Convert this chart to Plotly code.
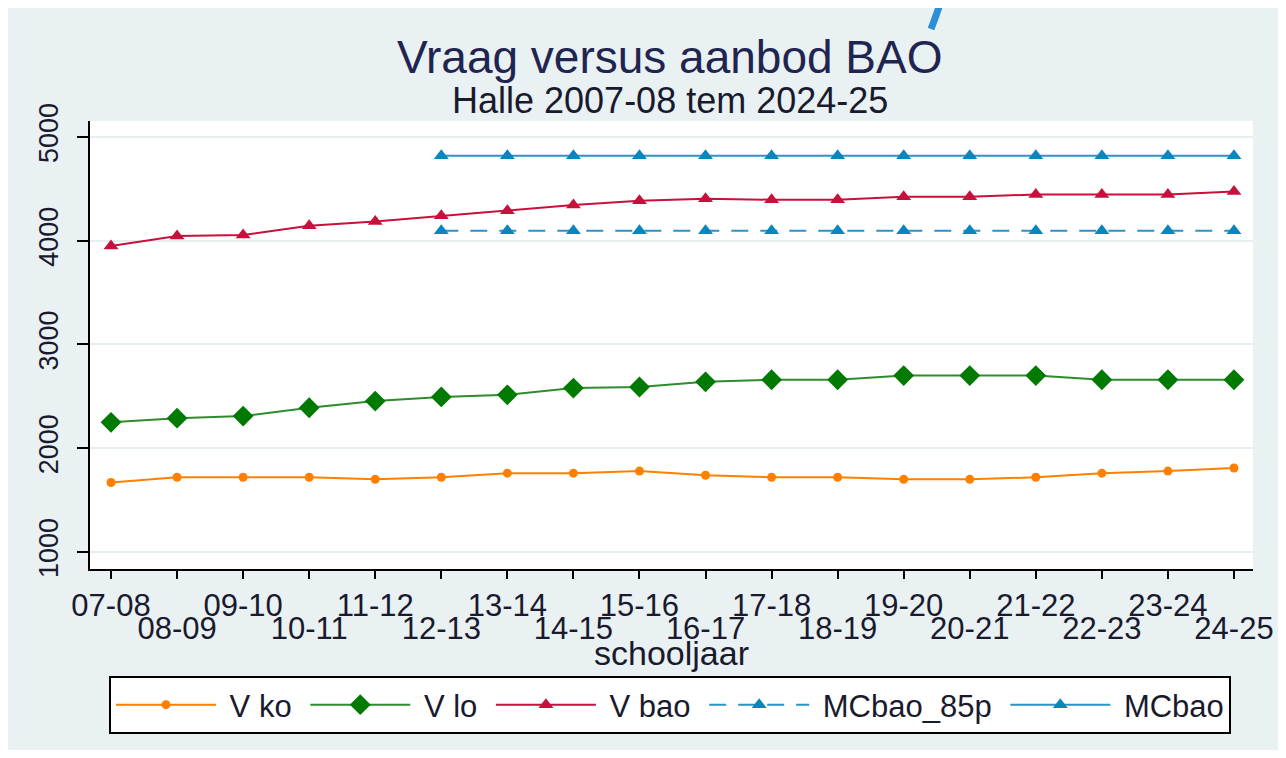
import plotly.graph_objects as go

# ---------------- data ----------------
years = ["07-08", "08-09", "09-10", "10-11", "11-12", "12-13", "13-14", "14-15", "15-16",
         "16-17", "17-18", "18-19", "19-20", "20-21", "21-22", "22-23", "23-24", "24-25"]
v_ko = [1670, 1720, 1720, 1720, 1700, 1720, 1760, 1760, 1780,
        1740, 1720, 1720, 1700, 1700, 1720, 1760, 1780, 1810]
v_lo = [2250, 2290, 2310, 2390, 2455, 2495, 2515, 2580, 2590,
        2640, 2660, 2660, 2700, 2700, 2700, 2660, 2660, 2660]
v_bao = [3950, 4045, 4055, 4145, 4185, 4240, 4290, 4345, 4385,
         4405, 4395, 4395, 4425, 4425, 4445, 4445, 4445, 4475]
mc_years = ["12-13", "13-14", "14-15", "15-16", "16-17", "17-18", "18-19",
            "19-20", "20-21", "21-22", "22-23", "23-24", "24-25"]
mcbao_85p = [4097, 4097, 4097, 4097, 4097, 4097, 4097, 4097, 4097, 4097, 4097, 4097, 4097]
mcbao = [4820, 4820, 4820, 4820, 4820, 4820, 4820, 4820, 4820, 4820, 4820, 4820, 4820]
y_ticks = [1000, 2000, 3000, 4000, 5000]

pos = {y: i for i, y in enumerate(years)}
x_all = [pos[y] for y in years]
x_mc = [pos[y] for y in mc_years]

FONT = "Liberation Sans, Arial, sans-serif"
TXT = "#1a1a2e"
ORANGE = "#FF8000"
GREEN_L = "#2E8B2E"
GREEN_M = "#007A00"
RED = "#C8103C"
BLUE_L = "#2B93C9"
BLUE_M = "#0A86BE"
NB = "\u00a0"

fig = go.Figure()
fig.add_trace(go.Scatter(x=x_all, y=v_ko, name=NB + "V ko" + NB, mode="lines+markers",
                         line=dict(color=ORANGE, width=2),
                         marker=dict(symbol="circle", size=9, color=ORANGE)))
fig.add_trace(go.Scatter(x=x_all, y=v_lo, name=NB + "V lo" + NB, mode="lines+markers",
                         line=dict(color=GREEN_L, width=2),
                         marker=dict(symbol="diamond", size=16, color=GREEN_M)))
fig.add_trace(go.Scatter(x=x_all, y=v_bao, name=NB + "V bao" + NB, mode="lines+markers",
                         line=dict(color=RED, width=2),
                         marker=dict(symbol="triangle-up", size=13, color=RED)))
fig.add_trace(go.Scatter(x=x_mc, y=mcbao_85p, name=NB + "MCbao_85p" + NB, mode="lines+markers",
                         xaxis="x2",
                         line=dict(color=BLUE_L, width=2, dash="17px,12px"),
                         marker=dict(symbol="triangle-up", size=13, color=BLUE_M)))
fig.add_trace(go.Scatter(x=x_mc, y=mcbao, name=NB + "MCbao", mode="lines+markers",
                         xaxis="x2",
                         line=dict(color=BLUE_L, width=2),
                         marker=dict(symbol="triangle-up", size=13, color=BLUE_M)))

xr = [-0.318, 17.288]
even_text = [y if i % 2 == 0 else "" for i, y in enumerate(years)]
odd_vals = [i for i in x_all if i % 2 == 1]
odd_text = [years[i] for i in odd_vals]

# figure sits inside an 8px page margin
W, H = 1278, 742
L, R, T, B = 82, 33, 113, 181
pw, ph = W - L - R, H - T - B


def px(x):
    return (x - L) / pw


def py(y):
    return (H - B - y) / ph


fig.update_layout(
    width=W, height=H,
    margin=dict(l=L, r=R, t=T, b=B, autoexpand=False),
    paper_bgcolor="#E9F1F3",
    plot_bgcolor="white",
    font=dict(family=FONT, color=TXT),
    showlegend=True,
    xaxis=dict(range=xr, tickmode="array", tickvals=x_all, ticktext=even_text,
               automargin=False,
               ticks="outside", ticklen=8, tickwidth=2, tickcolor="black",
               showline=True, linecolor="black", linewidth=2, showgrid=False,
               zeroline=False, tickfont=dict(size=31, color=TXT, family=FONT),
               title=dict(text="schooljaar", font=dict(size=34, color=TXT, family=FONT),
                          standoff=19)),
    xaxis2=dict(range=xr, overlaying="x", anchor="y", side="bottom", matches="x",
                automargin=False,
                tickmode="array", tickvals=odd_vals, ticktext=odd_text,
                ticks="", showline=False, showgrid=False, zeroline=False,
                ticklabelstandoff=38,
                tickfont=dict(size=31, color=TXT, family=FONT)),
    yaxis=dict(range=[836, 5154], tickmode="array", tickvals=y_ticks,
               automargin=False,
               tickangle=-90, ticks="outside", ticklen=11, tickwidth=2, tickcolor="black",
               showline=True, linecolor="black", linewidth=2,
               showgrid=True, gridcolor="#E6EEF0", gridwidth=1.5, zeroline=False,
               ticklabelstandoff=8,
               tickfont=dict(size=27, color=TXT, family=FONT)),
    legend=dict(orientation="h", x=px(662), xanchor="center", y=py(668), yanchor="top",
                bgcolor="white", bordercolor="black", borderwidth=2,
                itemwidth=100, font=dict(size=31, color=TXT, family=FONT),
                traceorder="normal"),
    annotations=[
        dict(text="Vraag versus aanbod BAO", x=px(662), y=py(49), xref="paper", yref="paper",
             showarrow=False, xanchor="center", yanchor="middle",
             font=dict(size=46, color="#1F2550", family=FONT)),
        dict(text="Halle 2007-08 tem 2024-25", x=px(662), y=py(92), xref="paper", yref="paper",
             showarrow=False, xanchor="center", yanchor="middle",
             font=dict(size=36, color=TXT, family=FONT)),
    ],
    shapes=[
        dict(type="path", xref="paper", yref="paper",
             path=f"M{px(931)},{py(-1)} Q{px(928)},{py(8)} {px(923)},{py(21)}",
             line=dict(color="#2C8ED6", width=7)),
    ],
)

fig.write_html("out.html")
